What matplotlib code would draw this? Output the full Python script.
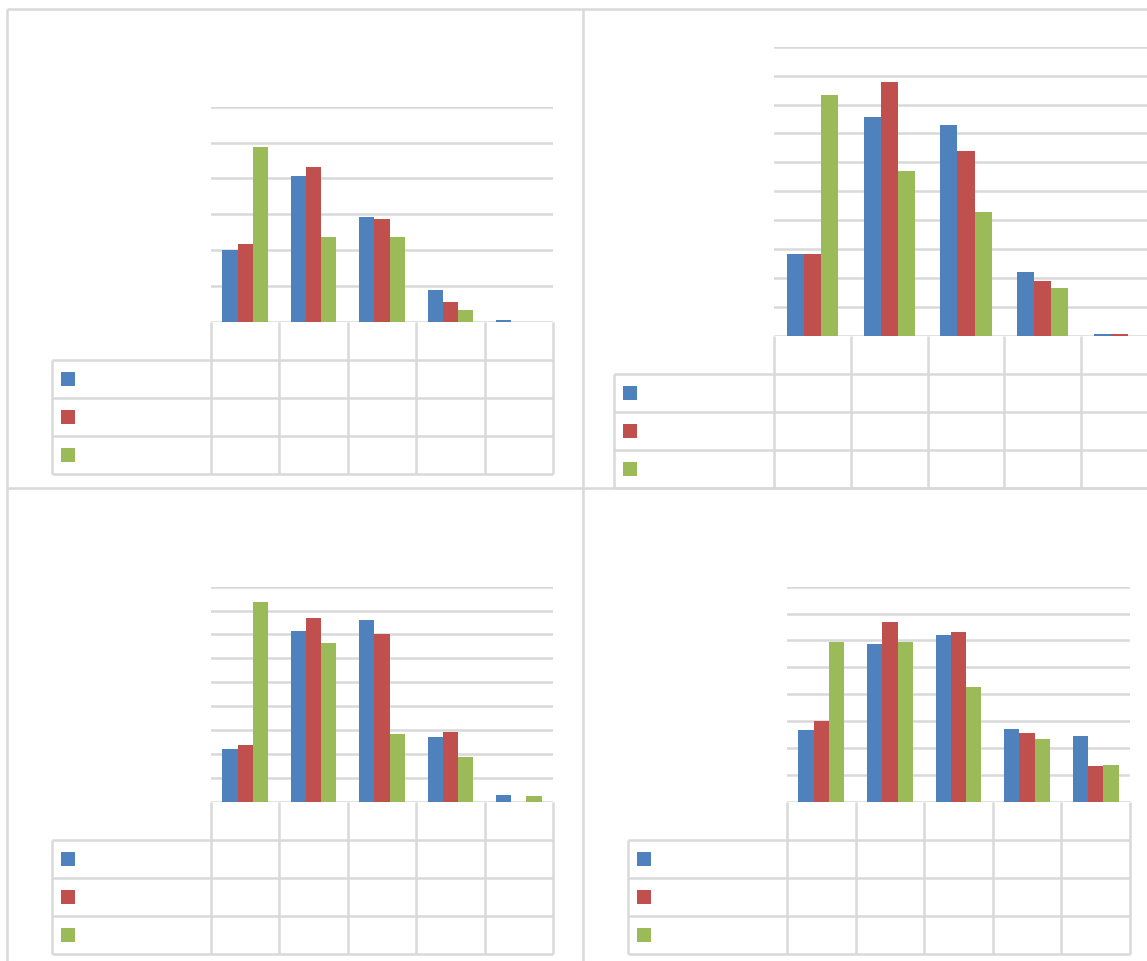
import matplotlib
matplotlib.use("Agg")
import matplotlib.pyplot as plt
from matplotlib.patches import Rectangle
import numpy as np

# data (in gridline units) -------------------------------------------------
categories = np.arange(5)

p1_blue = [2.00, 4.08, 2.92, 0.89, 0.04]
p1_red = [2.16, 4.33, 2.88, 0.55, 0.00]
p1_green = [4.87, 2.36, 2.36, 0.34, 0.00]

p2_blue = [2.84, 7.58, 7.28, 2.21, 0.07]
p2_red = [2.84, 8.79, 6.38, 1.90, 0.05]
p2_green = [8.34, 5.71, 4.28, 1.65, 0.00]

p3_blue = [2.19, 7.15, 7.59, 2.72, 0.26]
p3_red = [2.38, 7.67, 7.03, 2.90, 0.00]
p3_green = [8.34, 6.65, 2.85, 1.88, 0.22]

p4_blue = [2.68, 5.87, 6.19, 2.71, 2.45]
p4_red = [3.02, 6.70, 6.32, 2.55, 1.32]
p4_green = [5.93, 5.93, 4.26, 2.35, 1.38]

colors = ['#4F81BD', '#C0504D', '#9BBB59']
grid_c = '#D9D9D9'
LW = 1.8

W, H = 1147, 962
DY = 0.7  # small nudge so pixel rows line up with the reference
fig = plt.figure(figsize=(W / 100, H / 100), dpi=100)
fig.patch.set_facecolor('white')

# overlay in pixel coordinates for frames and data-table grid
ov = fig.add_axes([0, 0, 1, 1], zorder=0)
ov.set_xlim(0, W)
ov.set_ylim(H - DY, -DY)
ov.axis('off')


def hline(y, x0, x1):
    ov.plot([x0, x1], [y, y], color=grid_c, lw=LW, solid_capstyle='butt')


def vline(x, y0, y1):
    ov.plot([x, x], [y0, y1], color=grid_c, lw=LW, solid_capstyle='butt')


# chart borders
hline(9, 7, W)
hline(488, 7, W)
vline(7, 9, H)
vline(583, 9, H)

# panel layout: plot box (left, top, right, bottom), ymax, label column left, row height
panels = [
    dict(box=(211, 107, 553, 322), ymax=6, lab=52, rh=38,
         vals=(p1_blue, p1_red, p1_green)),
    dict(box=(774, 47, 1158, 336), ymax=10, lab=614, rh=38,
         vals=(p2_blue, p2_red, p2_green)),
    dict(box=(211, 587, 553, 802), ymax=9, lab=52, rh=38,
         vals=(p3_blue, p3_red, p3_green)),
    dict(box=(787, 587, 1130, 802), ymax=8, lab=628, rh=38,
         vals=(p4_blue, p4_red, p4_green)),
]

bw = 1 / 4.5
for p in panels:
    x0, yt, x1, yb = p['box']
    ax = fig.add_axes([x0 / W, 1 - (yb + DY) / H, (x1 - x0) / W, (yb - yt) / H],
                      zorder=1)
    ax.patch.set_alpha(0)
    for i, (vals, c) in enumerate(zip(p['vals'], colors)):
        ax.bar(categories + (i - 1) * bw, vals, width=bw, color=c,
               edgecolor='none', zorder=3)
    ax.set_xlim(-0.5, 4.5)
    ax.set_ylim(0, p['ymax'])
    ax.set_yticks(range(p['ymax'] + 1))
    ax.set_xticks([])
    ax.tick_params(left=False, labelleft=False)
    ax.grid(axis='y', color=grid_c, lw=LW, zorder=0)
    for s in ax.spines.values():
        s.set_visible(False)

    # data table below the plot
    rh = p['rh']
    cw = (x1 - x0) / 5
    rows = [yb + rh * k for k in range(1, 5)]
    bottom = rows[-1]
    for k in range(6):
        vline(x0 + k * cw, yb, bottom)
    for y in rows:
        hline(y, p['lab'], x1)
    vline(p['lab'], rows[0], bottom)
    for k, c in enumerate(colors):
        yc = rows[k] + rh / 2
        ov.add_patch(Rectangle((p['lab'] + 9, yc - 7), 14, 14, color=c, lw=0))

fig.savefig('out.png', dpi=100)
